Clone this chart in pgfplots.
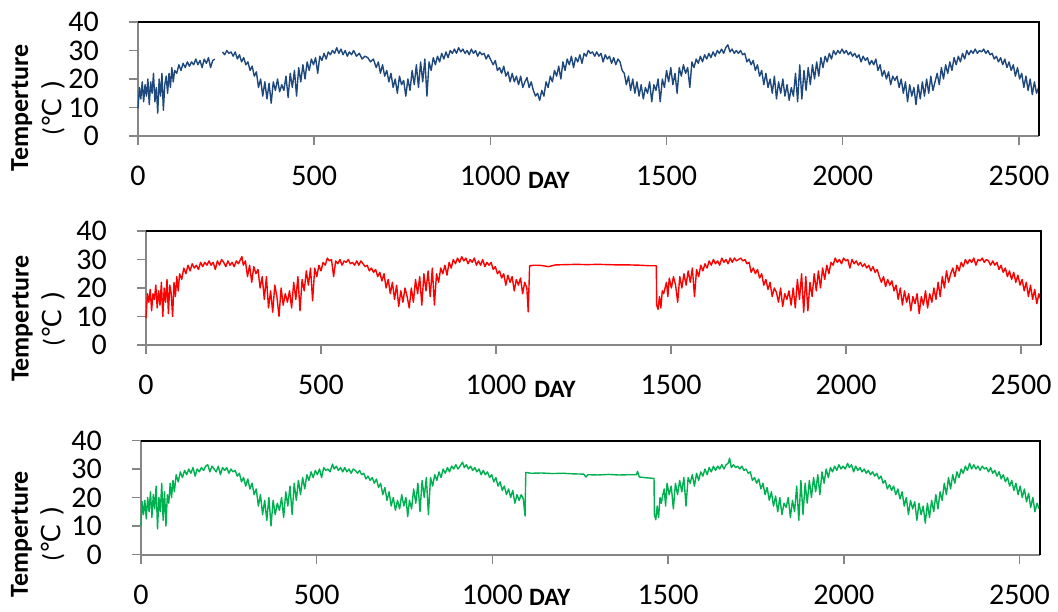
\documentclass[border=0pt]{standalone}
\usepackage{pgfplots}
\pgfplotsset{compat=1.18}
\usepackage{pgfplotstable}
\usepackage{fontspec}
\setmainfont{Carlito}
\newfontfamily\dejavu{DejaVu Sans}
\definecolor{cblue}{RGB}{31,73,125}
\definecolor{cred}{RGB}{255,0,0}
\definecolor{cgreen}{RGB}{0,176,80}
\definecolor{axgray}{RGB}{134,134,134}

\pgfplotstableread[row sep=\\]{x y\\
0 9.7\\ 4 17\\ 8 13\\ 12 19\\ 16 12\\ 20 18\\ 24 14\\ 28 20\\ 32 11\\ 36 19\\ 40 15\\ 44 22\\ 48 12\\ 52 17\\ 56 8\\ 60 20\\ 64 14\\ 68 22\\ 72 9\\ 76 18\\ 80 21\\ 84 15\\ 88 22\\ 92 17\\ 96 24\\ 100 19\\ 104 23\\ 110 22\\ 116 25\\ 122 23\\ 128 25.5\\ 134 24\\ 140 26\\ 146 24.5\\ 152 26\\ 158 25\\ 164 27\\ 170 25\\ 176 26.5\\ 182 24\\ 188 27\\ 194 25.5\\ 200 27.5\\ 206 24\\ 212 26.5\\ 218 27\\ 219 nan\\
240 29.5\\ 246 28.5\\ 252 30\\ 258 29\\ 264 29.5\\ 270 28\\ 276 29.5\\ 282 27\\ 288 28.5\\ 294 26\\ 300 27.5\\ 306 25\\ 312 26\\ 318 23\\ 324 24.5\\ 330 21\\ 336 22.5\\ 342 17\\ 348 20\\ 354 14\\ 360 19\\ 366 13\\ 372 18.5\\ 378 11.5\\ 384 19\\ 390 16\\ 396 20\\ 402 15.5\\ 408 18\\ 414 16\\ 420 21\\ 426 13.5\\ 432 22\\ 438 17\\ 444 23\\ 450 14\\ 456 24\\ 462 19\\ 468 25\\ 474 20\\ 480 26\\ 486 23\\ 492 27\\ 498 25\\
504 27.5\\ 510 22\\ 516 28\\ 522 26.5\\ 528 29\\ 534 27\\ 540 29.5\\ 546 28.5\\ 552 30\\ 558 29\\ 564 31\\ 570 29\\ 576 30.5\\ 582 28.5\\ 588 30\\ 594 28\\ 600 29.5\\ 606 28.5\\ 612 30\\ 620 28\\ 628 29\\ 636 27\\ 644 28\\ 652 27.5\\ 660 26\\ 668 27\\ 676 24\\ 682 26\\ 688 22\\ 694 25\\ 700 21\\ 706 23\\ 712 19\\ 718 22\\ 724 17\\ 730 20\\ 736 15\\ 742 21\\ 748 18\\ 754 19.5\\ 760 14\\ 766 20\\ 772 16\\ 778 23\\ 784 18\\ 790 25\\ 796 17\\ 802 26\\ 808 19\\ 814 27\\ 820 14\\ 826 26\\ 832 23\\ 838 27.5\\ 844 25\\ 850 28\\ 856 26\\ 862 29\\ 868 27\\ 874 29.5\\ 880 27.5\\ 886 30\\ 892 29\\ 898 30.5\\ 904 29\\ 910 31\\ 916 29.5\\ 922 30.5\\ 928 29\\ 934 30\\ 940 28.5\\ 946 30.5\\ 952 29\\ 958 30\\ 964 28\\ 970 29.5\\ 976 28.5\\ 982 29\\ 988 27\\ 994 28.5\\
1000 27\\ 1008 25\\ 1014 26.5\\ 1020 23\\ 1026 24\\ 1032 22\\ 1038 24.5\\ 1044 21\\ 1050 22.5\\ 1056 19\\ 1062 22\\ 1068 19\\ 1074 21\\ 1080 18\\ 1086 21\\ 1092 17\\ 1098 19\\ 1104 20.5\\ 1110 17\\ 1116 19\\ 1122 16\\ 1128 14\\ 1134 15\\ 1140 12.5\\ 1146 16\\ 1152 14\\ 1158 19\\ 1164 17\\ 1170 21\\ 1176 19\\ 1182 23\\ 1188 21\\ 1194 24.5\\ 1200 20\\ 1206 26\\ 1212 23\\ 1218 27\\ 1224 25\\ 1230 28\\ 1236 24\\ 1242 27.5\\ 1248 26\\ 1254 28.5\\ 1260 25.5\\ 1266 29\\ 1272 28\\ 1278 30\\ 1284 29\\ 1290 29.5\\ 1296 28\\ 1302 29.5\\ 1308 28\\ 1314 29\\ 1320 26\\ 1326 28.5\\ 1332 27\\ 1338 28\\ 1344 25.5\\ 1350 27.5\\ 1356 25\\ 1362 27\\ 1368 26\\ 1374 23\\ 1380 22\\ 1386 18\\ 1392 21\\ 1398 16\\ 1404 20\\ 1410 15\\ 1416 19\\ 1422 14\\ 1428 18\\ 1434 13\\ 1440 17\\ 1446 15\\ 1452 19\\ 1458 12\\ 1464 18\\ 1470 16\\ 1476 20\\ 1482 12\\ 1488 20\\ 1494 17\\
1500 23\\ 1506 19\\ 1512 24\\ 1518 18\\ 1524 22\\ 1530 15\\ 1536 24\\ 1542 21\\ 1548 25\\ 1554 22\\ 1560 24\\ 1566 17\\ 1572 26\\ 1578 24\\ 1584 27\\ 1590 25.5\\ 1596 28\\ 1602 26\\ 1608 28.5\\ 1614 27\\ 1620 29\\ 1626 27.5\\ 1632 29.5\\ 1638 28\\ 1644 30\\ 1650 29\\ 1656 30.5\\ 1662 29\\ 1668 31\\ 1674 32\\ 1680 29.5\\ 1686 30.5\\ 1692 29\\ 1698 30\\ 1704 29\\ 1710 30\\ 1716 28.5\\ 1722 29\\ 1728 26\\ 1734 27\\ 1740 25\\ 1746 26.5\\ 1752 23\\ 1758 25\\ 1764 21\\ 1770 23\\ 1776 18\\ 1782 22\\ 1788 17\\ 1794 20\\ 1800 15\\ 1806 21\\ 1812 13\\ 1818 19\\ 1824 15\\ 1830 20\\ 1836 14\\ 1842 18\\ 1848 12.5\\ 1854 17\\ 1860 14\\ 1866 22\\ 1872 12\\ 1878 25\\ 1884 13\\ 1890 23\\ 1896 16\\ 1902 24\\ 1908 18\\ 1914 25\\ 1920 20\\ 1926 26\\ 1932 21\\ 1938 27.5\\ 1944 24\\ 1950 28\\ 1956 26\\ 1962 29\\ 1968 27\\ 1974 30\\ 1980 28.5\\ 1986 30\\ 1992 29\\ 1998 30.5\\
2004 29\\ 2010 30\\ 2016 28.5\\ 2022 29.5\\ 2028 28\\ 2034 29\\ 2040 27.5\\ 2046 28.5\\ 2052 26\\ 2058 28\\ 2064 26.5\\ 2070 27.5\\ 2076 25\\ 2082 26.5\\ 2088 25\\ 2094 27\\ 2100 23\\ 2106 25\\ 2112 21\\ 2118 23\\ 2124 20\\ 2130 22.5\\ 2136 18\\ 2142 21\\ 2148 19.5\\ 2154 21\\ 2160 17\\ 2166 20\\ 2172 15\\ 2178 19\\ 2184 12\\ 2190 18\\ 2196 14\\ 2202 17\\ 2208 11\\ 2214 18\\ 2220 13\\ 2226 19\\ 2232 14\\ 2238 20\\ 2244 15\\ 2250 21\\ 2256 16\\ 2262 19\\ 2268 22\\ 2274 18\\ 2280 24\\ 2286 20\\ 2292 25\\ 2298 22\\ 2304 26\\ 2310 23\\ 2316 27.5\\ 2322 25\\ 2328 28\\ 2334 26\\ 2340 29\\ 2346 27\\ 2352 30\\ 2358 28.5\\ 2364 30\\ 2370 29\\ 2376 30.5\\ 2382 29\\ 2388 30\\ 2394 29.5\\ 2400 30.5\\ 2406 29\\ 2412 30\\ 2418 28.5\\ 2424 29\\ 2430 27\\ 2436 28\\ 2442 26\\ 2448 27.5\\ 2454 25\\ 2460 27\\ 2466 24\\ 2472 26\\ 2478 23\\ 2484 25\\ 2490 21\\ 2496 24\\ 2502 20\\ 2508 22\\ 2514 17\\ 2520 21\\ 2526 16\\ 2532 20\\ 2538 14.5\\ 2544 19\\ 2550 15\\ 2556 17\\
}\bluedata

\pgfplotstableread[row sep=\\]{x y\\
0 9.4\\ 4 18\\ 8 15\\ 12 19.5\\ 16 12\\ 20 18\\ 24 16\\ 28 21\\ 32 13\\ 36 19\\ 40 14\\ 44 22\\ 48 10\\ 52 20\\ 56 15\\ 60 23\\ 64 11\\ 68 21\\ 72 18\\ 76 10\\ 80 22\\ 84 17\\ 88 24\\ 92 19\\ 96 25\\ 102 23\\ 108 27\\ 114 25\\ 120 28\\ 126 26\\ 132 28.5\\ 138 27\\ 144 28\\ 150 26.5\\ 156 29\\ 162 27.5\\ 168 29\\ 174 28\\ 180 29.5\\ 186 28\\ 192 29\\ 198 26.5\\ 204 29.5\\ 210 28\\ 216 30\\ 222 29\\ 228 27.5\\ 234 29.5\\ 240 28\\ 246 29\\ 252 27.5\\ 258 29.5\\ 264 28.5\\ 270 30\\ 274 31\\ 278 28\\ 284 29.5\\ 290 24\\ 296 28\\ 302 22\\ 308 27.5\\ 314 25\\ 320 26.5\\ 326 20\\ 332 24\\ 338 16\\ 344 24\\ 350 13\\ 356 19\\ 362 11.5\\ 368 21\\ 374 17\\ 380 10\\ 386 20\\ 392 14\\ 398 18\\ 404 15\\ 410 19\\ 416 13\\ 422 22\\ 428 16\\ 434 24\\ 440 12\\ 446 23\\ 452 19\\ 458 26\\ 464 21\\ 470 27\\ 476 15.5\\ 482 27\\ 488 24\\ 494 28\\
500 26\\ 506 29\\ 512 28\\ 518 30.5\\ 524 29.5\\ 530 30\\ 536 24\\ 542 29.5\\ 548 28.5\\ 554 30\\ 560 28\\ 566 29.5\\ 572 29\\ 578 30\\ 584 28.5\\ 590 29\\ 596 28\\ 602 29.5\\ 608 28\\ 614 29.5\\ 620 28.5\\ 626 27.5\\ 632 28\\ 638 26\\ 644 27\\ 650 25.5\\ 656 26.5\\ 662 24\\ 668 25.5\\ 674 22.5\\ 680 25\\ 686 20\\ 692 23\\ 698 18\\ 704 22\\ 710 16\\ 716 21\\ 722 13.5\\ 728 19\\ 734 15\\ 740 20\\ 746 17\\ 752 13\\ 758 20\\ 764 15\\ 770 23\\ 776 18\\ 782 24\\ 788 14\\ 794 25\\ 800 19\\ 806 26\\ 812 17\\ 818 27\\ 824 14\\ 830 25\\ 836 22\\ 842 27\\ 848 25\\ 854 28\\ 860 24.5\\ 866 29\\ 872 27\\ 878 30\\ 884 28.5\\ 890 30.5\\ 896 29\\ 902 31\\ 908 29.5\\ 914 30.5\\ 920 28.5\\ 926 30\\ 932 29\\ 938 30.5\\ 944 28\\ 950 29.5\\ 956 28\\ 962 30\\ 968 27.5\\ 974 29\\ 980 28\\ 986 29\\ 992 26.5\\ 998 27.5\\
1004 25\\ 1010 26\\ 1016 23.5\\ 1022 25\\ 1028 21\\ 1034 24.5\\ 1040 22\\ 1046 24\\ 1052 19\\ 1058 23\\ 1064 21\\ 1070 23.5\\ 1076 18\\ 1082 22\\ 1088 20\\ 1092 11.6\\ 1096 27.8\\ 1110 28\\ 1130 27.9\\ 1150 27.5\\ 1170 28.1\\ 1200 28.2\\ 1230 28.3\\ 1260 28.2\\ 1290 28.3\\ 1320 28.2\\ 1350 28.1\\ 1380 28.1\\ 1410 28\\ 1440 27.8\\ 1458 27.8\\ 1459 14\\ 1463 12.5\\ 1467 17\\ 1471 13\\ 1475 19\\ 1479 18\\ 1483 20\\ 1487 22\\ 1491 17\\ 1495 23.5\\
1501 20\\ 1507 24\\ 1513 21\\ 1519 15\\ 1525 24\\ 1531 20\\ 1537 25\\ 1543 21\\ 1549 26\\ 1555 22\\ 1561 27\\ 1567 17\\ 1573 26.5\\ 1579 24\\ 1585 28\\ 1591 26\\ 1597 28.5\\ 1603 27\\ 1609 29.5\\ 1615 28\\ 1621 30\\ 1627 28.5\\ 1633 29.5\\ 1639 28\\ 1645 30.5\\ 1651 29\\ 1657 30\\ 1663 28.5\\ 1669 30.5\\ 1675 29\\ 1681 30.5\\ 1687 29.5\\ 1693 30\\ 1699 30.5\\ 1705 29.5\\ 1711 30\\ 1717 28.5\\ 1723 29\\ 1729 25.5\\ 1735 27\\ 1741 25\\ 1747 26.5\\ 1753 23.5\\ 1759 25\\ 1765 21\\ 1771 23\\ 1777 19.5\\ 1783 22\\ 1789 17\\ 1795 20\\ 1801 18.5\\ 1807 15\\ 1813 20\\ 1819 13.5\\ 1825 18\\ 1831 16\\ 1837 19\\ 1843 14\\ 1849 20\\ 1855 13\\ 1861 23\\ 1867 16\\ 1873 25\\ 1879 11.5\\ 1885 24\\ 1891 12\\ 1897 22\\ 1903 17\\ 1909 25\\ 1915 19\\ 1921 26\\ 1927 20\\ 1933 27\\ 1939 23\\ 1945 28\\ 1951 25\\ 1957 29\\ 1963 28\\ 1969 30.5\\ 1975 29\\ 1981 30\\ 1987 28.5\\ 1993 30.5\\ 1999 29.5\\
2005 30\\ 2011 27\\ 2017 30\\ 2023 28.5\\ 2029 29.5\\ 2035 28\\ 2041 29\\ 2047 27.5\\ 2053 28.5\\ 2059 27\\ 2065 28\\ 2071 26\\ 2077 27.5\\ 2083 25.5\\ 2089 26.5\\ 2095 24\\ 2101 22\\ 2107 24\\ 2113 20.5\\ 2119 23\\ 2125 21\\ 2131 22.5\\ 2137 19\\ 2143 21\\ 2149 16\\ 2155 20\\ 2161 14\\ 2167 19\\ 2173 15\\ 2179 18\\ 2185 12\\ 2191 17\\ 2197 14.5\\ 2203 18\\ 2209 11\\ 2215 17\\ 2221 14\\ 2227 19\\ 2233 13\\ 2239 18\\ 2245 15\\ 2251 20\\ 2257 16\\ 2263 22\\ 2269 17\\ 2275 24\\ 2281 20\\ 2287 26\\ 2293 22\\ 2299 25\\ 2305 27\\ 2311 24\\ 2317 28\\ 2323 26\\ 2329 29\\ 2335 27.5\\ 2341 30\\ 2347 28.5\\ 2353 30\\ 2359 29\\ 2365 30.5\\ 2371 28\\ 2377 30\\ 2383 29.5\\ 2389 30.5\\ 2395 29\\ 2401 30\\ 2407 29.5\\ 2413 28\\ 2419 29.5\\ 2425 28\\ 2431 29\\ 2437 26.5\\ 2443 28\\ 2449 25.5\\ 2455 27\\ 2461 24\\ 2467 26\\ 2473 23\\ 2479 25.5\\ 2485 22\\ 2491 24.5\\ 2497 21\\ 2503 23\\ 2509 19\\ 2515 22\\ 2521 17\\ 2527 21\\ 2533 16\\ 2539 19.5\\ 2545 14.5\\ 2551 18\\ 2556 16\\
}\reddata

\pgfplotstableread[row sep=\\]{x y\\
0 10\\ 3 18.6\\ 7 14\\ 11 19\\ 15 12.5\\ 19 20\\ 23 15\\ 27 22\\ 31 13\\ 35 21\\ 39 16\\ 43 24\\ 47 9\\ 51 20\\ 55 15\\ 59 25\\ 63 12\\ 67 22\\ 71 10\\ 75 21\\ 79 18\\ 83 25\\ 87 20\\ 91 26\\ 95 22\\ 100 28\\ 106 25.5\\ 112 29\\ 118 27\\ 124 29.5\\ 130 28\\ 136 30\\ 142 28.5\\ 148 30.5\\ 154 27.5\\ 160 30\\ 166 29\\ 172 30.5\\ 178 29.5\\ 184 31\\ 190 31.5\\ 196 29\\ 202 31\\ 208 30\\ 214 29\\ 220 31\\ 226 28\\ 232 30.5\\ 238 29.5\\ 244 30.5\\ 250 28.5\\ 256 30\\ 262 29\\ 268 29.5\\ 274 27.5\\ 280 28.5\\ 286 25.5\\ 292 27\\ 298 24\\ 304 26.5\\ 310 23\\ 316 25\\ 322 21\\ 328 23\\ 334 17\\ 340 21\\ 346 14\\ 352 19\\ 358 12\\ 364 20\\ 370 10\\ 376 19\\ 382 14\\ 388 18\\ 394 15.5\\ 400 20\\ 406 13\\ 412 22\\ 418 17\\ 424 24\\ 430 14\\ 436 25\\ 442 19\\ 448 26\\ 454 21\\ 460 27\\ 466 23\\ 472 28\\ 478 26\\ 484 29\\ 490 27\\ 496 29.5\\
502 28\\ 508 30\\ 514 27\\ 520 30.5\\ 526 29.5\\ 532 30\\ 538 29\\ 545 31.7\\ 550 30\\ 556 31\\ 562 29.5\\ 568 30.5\\ 574 29\\ 580 30.5\\ 586 29\\ 592 30\\ 598 28.5\\ 604 30\\ 610 29.5\\ 616 28.5\\ 622 29.5\\ 628 28\\ 634 28.5\\ 640 26.5\\ 646 27.5\\ 652 26\\ 658 27\\ 664 25\\ 670 26.5\\ 676 23.5\\ 682 25\\ 688 21\\ 694 23.5\\ 700 19\\ 706 22\\ 712 17\\ 718 20\\ 724 15.5\\ 730 19\\ 736 16\\ 742 21\\ 748 17\\ 754 20\\ 759 13.3\\ 764 19\\ 770 16\\ 776 23\\ 782 18\\ 788 25\\ 794 15\\ 800 26\\ 806 20\\ 812 27\\ 818 14\\ 824 27\\ 830 24\\ 836 28\\ 842 26\\ 848 29\\ 854 27\\ 860 30\\ 866 28.5\\ 872 30.5\\ 878 29\\ 884 31\\ 890 30\\ 896 31.5\\ 902 30\\ 908 31\\ 915 32.4\\ 920 30.5\\ 926 31.5\\ 932 30\\ 938 31\\ 944 29.5\\ 950 30.5\\ 956 29\\ 962 30\\ 968 28\\ 974 29.5\\ 980 28\\ 986 29\\ 992 27\\ 998 28\\
1004 25.5\\ 1010 27\\ 1016 24\\ 1022 25.5\\ 1028 22.5\\ 1034 24\\ 1040 21\\ 1046 23\\ 1052 20\\ 1058 22.5\\ 1064 18\\ 1070 21\\ 1076 19\\ 1082 21\\ 1088 19.5\\ 1093 13.5\\ 1095 28.8\\ 1110 28.5\\ 1140 28.6\\ 1170 28.4\\ 1200 28.5\\ 1230 28.3\\ 1260 28.2\\ 1266 27.2\\ 1272 28\\ 1300 27.9\\ 1330 28.1\\ 1360 27.9\\ 1390 28\\ 1410 28\\ 1413 29.2\\ 1418 27.2\\ 1440 26.9\\ 1460 26.7\\ 1461 13.9\\ 1465 12.2\\ 1469 17\\ 1473 13\\ 1477 20\\ 1481 18\\ 1485 21\\ 1489 23\\ 1493 17\\ 1497 25\\
1503 21\\ 1509 24\\ 1515 16\\ 1521 25\\ 1527 21\\ 1533 26\\ 1539 22\\ 1545 27\\ 1551 17\\ 1557 27\\ 1563 25\\ 1569 28\\ 1575 24\\ 1581 28.5\\ 1587 26\\ 1593 29\\ 1599 27.5\\ 1605 30\\ 1611 28\\ 1617 30.5\\ 1623 29\\ 1629 31\\ 1635 29.5\\ 1641 31\\ 1647 30\\ 1653 31.5\\ 1659 30\\ 1665 31.5\\ 1671 32\\ 1675 33.8\\ 1680 30.5\\ 1686 31.5\\ 1692 30.5\\ 1698 31\\ 1704 30\\ 1710 31\\ 1716 29.5\\ 1722 30\\ 1728 28.5\\ 1734 29\\ 1740 26\\ 1746 27\\ 1752 25\\ 1758 26.5\\ 1764 23\\ 1770 25\\ 1776 21\\ 1782 23.5\\ 1788 19\\ 1794 22\\ 1800 17\\ 1806 20.5\\ 1812 15\\ 1818 20\\ 1824 14\\ 1830 18\\ 1836 16.5\\ 1842 20\\ 1848 13\\ 1854 19\\ 1860 15\\ 1866 24\\ 1872 12\\ 1878 26\\ 1884 14\\ 1890 25\\ 1896 18\\ 1902 26\\ 1908 20\\ 1914 27\\ 1920 22\\ 1926 28\\ 1932 21\\ 1938 29\\ 1944 25\\ 1950 30\\ 1956 27\\ 1962 30.5\\ 1968 29\\ 1974 31\\ 1980 29.5\\ 1986 31.5\\ 1992 30\\ 1998 31\\
2004 30\\ 2011 32\\ 2016 30.5\\ 2022 31.5\\ 2028 29\\ 2034 31\\ 2040 29.5\\ 2046 30.5\\ 2052 29\\ 2058 30\\ 2064 28.5\\ 2070 29.5\\ 2076 28\\ 2082 29\\ 2088 27.5\\ 2094 28.5\\ 2100 26.5\\ 2106 27.5\\ 2112 25\\ 2118 26\\ 2124 23\\ 2130 24.5\\ 2136 22.5\\ 2142 24\\ 2148 21\\ 2154 23\\ 2160 19.5\\ 2166 22\\ 2172 17\\ 2178 20\\ 2184 14\\ 2190 19\\ 2196 16\\ 2202 18.5\\ 2208 12\\ 2214 18\\ 2220 14\\ 2226 17\\ 2232 11\\ 2238 18\\ 2244 13\\ 2250 19\\ 2256 15\\ 2262 21\\ 2268 16\\ 2274 22\\ 2280 19\\ 2286 25\\ 2292 21\\ 2298 27\\ 2304 23\\ 2310 28\\ 2316 25\\ 2322 29\\ 2328 27\\ 2334 30\\ 2340 28.5\\ 2346 31\\ 2352 29.5\\ 2358 32\\ 2364 30\\ 2370 31.5\\ 2376 30\\ 2382 31\\ 2388 29.5\\ 2394 31\\ 2400 30\\ 2406 30.5\\ 2412 29\\ 2418 30.5\\ 2424 28.5\\ 2430 29.5\\ 2436 27.5\\ 2442 29\\ 2448 26.5\\ 2454 28\\ 2460 25.5\\ 2466 27\\ 2472 24\\ 2478 26\\ 2484 22.5\\ 2490 25\\ 2496 21\\ 2502 24\\ 2508 20\\ 2514 23\\ 2520 18.5\\ 2526 21.5\\ 2532 16.5\\ 2538 20\\ 2544 15\\ 2550 18\\ 2556 16\\
}\greendata

\pgfplotsset{panel/.style={
  anchor=south west, scale only axis, height=114pt, clip=false,
  xmin=0, xmax=2557, ymin=0, ymax=40,
  xtick={0,500,...,2500}, ytick={0,10,...,40},
  axis x line*=bottom, axis y line*=left,
  axis line style={axgray, line width=2pt},
  tick align=outside, major tick length=9pt,
  tick style={axgray, line width=1.5pt},
  /pgf/number format/assume math mode=true,
  /pgf/number format/1000 sep={},
  ticklabel style={font=\fontsize{30}{36}\selectfont, inner sep=0pt},
  xticklabel style={anchor=north, yshift=-21pt},
  yticklabel style={anchor=east, xshift=-30pt},
  unbounded coords=jump,
  every axis plot/.append style={line width=1.4pt, line join=round},
}}
\newcommand{\frametr}{\draw[black, line width=2pt] (rel axis cs:0,1) -- (rel axis cs:1,1) -- (rel axis cs:1,0);}
\newcommand{\ylab}[2]{\node[rotate=90, align=center, anchor=center, font=\fontsize{26}{33}\selectfont] at (axis description cs:#1,#2) {\bfseries Temperture\\(\dejavu ℃\ )};}
\newcommand{\daylab}[2]{\node[font=\bfseries\fontsize{25}{30}\selectfont, inner sep=0pt] at (axis description cs:#1,#2) {DAY};}

\begin{document}
\begin{tikzpicture}
\useasboundingbox (0pt,0pt) rectangle (1058pt,611pt);
\begin{axis}[panel, at={(138pt,475pt)}, width=901pt]
  \addplot[cblue] table {\bluedata};
  \frametr
  \ylab{-0.111}{0.246}
  \daylab{0.456}{-0.386}
\end{axis}
\begin{axis}[panel, at={(146pt,266pt)}, width=895pt]
  \addplot[cred] table {\reddata};
  \frametr
  \ylab{-0.12}{0.23}
  \daylab{0.457}{-0.386}
\end{axis}
\begin{axis}[panel, at={(141pt,56.5pt)}, width=898.5pt]
  \addplot[cgreen] table {\greendata};
  \frametr
  \ylab{-0.115}{0.18}
  \daylab{0.455}{-0.38}
\end{axis}
\end{tikzpicture}
\end{document}
